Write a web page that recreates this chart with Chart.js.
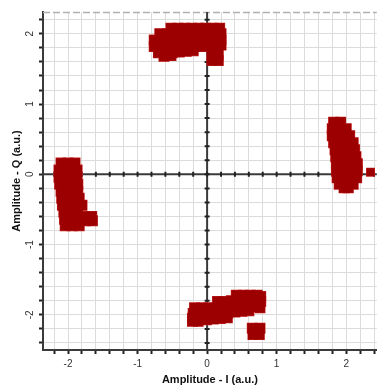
<!DOCTYPE html>
<html>
<head>
<meta charset="utf-8">
<script src="https://cdn.jsdelivr.net/npm/chart.js@4"></script>
<style>
html,body{margin:0;padding:0;background:#fff;}
canvas{display:block;}
</style>
</head>
<body>
<canvas id="c" width="378" height="390"></canvas>
<script>
// Axis settings and tick labels
const xRange = [-2.36, 2.44];
const yRange = [-2.5, 2.31];
const xTickLabels = [-2, -1, 0, 1, 2];
const yTickLabels = [-2, -1, 0, 1, 2];
const xTitle = 'Amplitude - I (a.u.)';
const yTitle = 'Amplitude - Q (a.u.)';

// Constellation clusters: [I, Q] samples
const clusterTop = [
  [-0.52,2.08],[-0.42,2.08],[-0.32,2.08],[-0.22,2.08],[-0.12,2.08],[-0.02,2.08],[0.08,2.08],[0.18,2.08],
  [-0.68,2.00],[-0.58,2.00],[-0.48,2.00],[-0.38,2.00],[-0.28,2.00],[-0.18,2.00],[-0.08,2.00],[0.02,2.00],[0.12,2.00],[0.20,2.00],
  [-0.76,1.91],[-0.66,1.91],[-0.56,1.91],[-0.46,1.91],[-0.36,1.91],[-0.26,1.91],[-0.16,1.91],[-0.06,1.91],[0.04,1.91],[0.14,1.91],[0.20,1.91],
  [-0.76,1.82],[-0.66,1.82],[-0.56,1.82],[-0.46,1.82],[-0.36,1.82],[-0.26,1.82],[-0.16,1.82],[-0.06,1.82],[0.04,1.83],[0.14,1.84],[0.20,1.84],
  [-0.70,1.73],[-0.60,1.73],[-0.50,1.73],[-0.40,1.74],[-0.30,1.75],[-0.20,1.76],
  [-0.62,1.68],[-0.52,1.69],
  [0.07,1.70],[0.16,1.70],[0.07,1.62],[0.16,1.62]
];
const clusterLeft = [
  [-2.10,0.16],[-2.00,0.16],[-1.90,0.16],
  [-2.13,0.06],[-2.03,0.06],[-1.93,0.06],[-1.87,0.06],
  [-2.13,-0.04],[-2.03,-0.04],[-1.93,-0.04],[-1.87,-0.04],
  [-2.12,-0.14],[-2.02,-0.14],[-1.92,-0.14],[-1.86,-0.14],
  [-2.10,-0.24],[-2.00,-0.24],[-1.90,-0.24],[-1.86,-0.24],
  [-2.09,-0.34],[-1.99,-0.34],[-1.89,-0.34],[-1.84,-0.34],
  [-2.08,-0.44],[-1.98,-0.44],[-1.88,-0.44],[-1.80,-0.44],
  [-2.06,-0.54],[-1.96,-0.54],[-1.86,-0.54],[-1.76,-0.60],[-1.66,-0.60],
  [-2.05,-0.64],[-1.95,-0.64],[-1.85,-0.64],[-1.75,-0.66],[-1.65,-0.66],
  [-2.04,-0.73],[-1.94,-0.73],[-1.84,-0.73]
];
const clusterRight = [
  [1.82,0.74],[1.92,0.74],
  [1.80,0.65],[1.90,0.65],[2.00,0.65],
  [1.80,0.55],[1.90,0.55],[2.00,0.55],[2.05,0.55],
  [1.82,0.45],[1.92,0.45],[2.02,0.45],[2.10,0.45],
  [1.84,0.35],[1.94,0.35],[2.04,0.35],[2.12,0.35],
  [1.85,0.25],[1.95,0.25],[2.05,0.25],[2.14,0.25],
  [1.86,0.15],[1.96,0.15],[2.06,0.15],[2.16,0.15],
  [1.86,0.05],[1.96,0.05],[2.06,0.05],[2.16,0.05],
  [1.87,-0.05],[1.97,-0.05],[2.07,-0.05],[2.15,-0.05],
  [1.90,-0.14],[2.00,-0.14],[2.10,-0.14],
  [1.97,-0.19],[2.03,-0.19]
];
const outlierRight = [[2.35,0.03]];
const clusterBottom = [
  [0.42,-1.72],[0.52,-1.72],[0.62,-1.72],[0.72,-1.72],[0.77,-1.74],
  [0.15,-1.81],[0.25,-1.81],[0.35,-1.80],[0.45,-1.80],[0.55,-1.80],[0.65,-1.80],[0.77,-1.81],
  [-0.18,-1.90],[-0.08,-1.90],[0.02,-1.90],[0.12,-1.90],[0.22,-1.90],[0.32,-1.89],[0.42,-1.88],[0.52,-1.88],[0.62,-1.88],[0.72,-1.88],[0.76,-1.90],
  [-0.20,-1.98],[-0.10,-1.98],[0.00,-1.98],[0.10,-1.98],[0.20,-1.98],[0.30,-1.97],[0.40,-1.96],[0.50,-1.95],[0.60,-1.94],
  [-0.21,-2.05],[-0.11,-2.06],[-0.01,-2.07],[0.09,-2.06],[0.19,-2.05],[0.29,-2.04],
  [-0.21,-2.09],[-0.13,-2.09],
  [0.65,-2.19],[0.76,-2.19],[0.66,-2.28],[0.75,-2.28]
];

const clusters = [clusterTop, clusterLeft, clusterRight, clusterBottom];

const red = '#9c0000';
const redHalo = '#c42222';

function makeSet(points, radius, color) {
  return {
    data: points.map(p => ({x: p[0], y: p[1]})),
    backgroundColor: color,
    borderWidth: 0,
    pointStyle: 'rect',
    pointRadius: radius,
    pointHoverRadius: radius
  };
}
// Chart.js paints dataset 0 last (on top): dark fill first, lighter halo after
const datasets = [];
clusters.forEach(c => datasets.push(makeSet(c, 7, red)));
datasets.push(makeSet(outlierRight, 5.5, red));
clusters.forEach(c => datasets.push(makeSet(c, 7.8, redHalo)));
datasets.push(makeSet(outlierRight, 6.3, redHalo));

function minorTicks(lo, hi) {
  const out = [];
  for (let i = Math.ceil(lo * 5 - 1e-9); i <= Math.floor(hi * 5 + 1e-9); i++) out.push({value: Math.round(i * 2) / 10});
  return out;
}
function labelFor(list) {
  return v => {
    const r = Math.round(v);
    return (Math.abs(v - r) < 1e-6 && list.includes(r)) ? String(r) : '';
  };
}

const originAxes = {
  id: 'originAxes',
  beforeDatasetsDraw(chart) {
    const {ctx, chartArea: a, scales: {x, y}} = chart;
    const x0 = x.getPixelForValue(0), y0 = y.getPixelForValue(0);
    ctx.save();
    ctx.strokeStyle = '#b0b0b0';
    ctx.lineWidth = 1.5;
    ctx.setLineDash([7, 3]);
    ctx.beginPath();
    ctx.moveTo(a.left, a.top + 0.5);
    ctx.lineTo(a.right, a.top + 0.5);
    ctx.stroke();
    ctx.setLineDash([]);
    ctx.strokeStyle = '#3a3a3a';
    ctx.lineWidth = 2;
    ctx.beginPath();
    ctx.moveTo(a.left, y0); ctx.lineTo(a.right, y0);
    ctx.moveTo(x0, a.top); ctx.lineTo(x0, a.bottom);
    ctx.stroke();
    ctx.strokeStyle = '#222';
    ctx.lineWidth = 2;
    ctx.beginPath();
    x.ticks.forEach(t => { const px = x.getPixelForValue(t.value); ctx.moveTo(px, y0 - 2.5); ctx.lineTo(px, y0 + 2.5); });
    y.ticks.forEach(t => { const py = y.getPixelForValue(t.value); ctx.moveTo(x0 - 2.5, py); ctx.lineTo(x0 + 2.5, py); });
    ctx.stroke();
    ctx.restore();
  }
};

new Chart(document.getElementById('c'), {
  type: 'scatter',
  data: {datasets},
  plugins: [originAxes],
  options: {
    responsive: false,
    animation: false,
    events: [],
    layout: {autoPadding: false, padding: {top: 12, right: 0, left: 0, bottom: 0}},
    plugins: {legend: {display: false}, tooltip: {enabled: false}},
    scales: {
      x: {
        type: 'linear',
        min: xRange[0], max: xRange[1],
        afterBuildTicks: s => { s.ticks = minorTicks(xRange[0], xRange[1]); },
        afterFit: s => { s.height = 40; },
        grid: {color: '#dcdcdc', lineWidth: 1, tickLength: 4, tickColor: '#222', tickWidth: 2},
        border: {color: '#3a3a3a', width: 2},
        ticks: {autoSkip: false, maxRotation: 0, minRotation: 0, padding: 4, color: '#333',
          font: {family: 'Liberation Sans, Arial, sans-serif', size: 10},
          callback: labelFor(xTickLabels)},
        title: {display: true, text: xTitle, color: '#111', padding: {top: 0, bottom: 3},
          font: {family: 'Liberation Sans, Arial, sans-serif', size: 11, weight: 'bold'}}
      },
      y: {
        type: 'linear',
        min: yRange[0], max: yRange[1],
        afterBuildTicks: s => { s.ticks = minorTicks(yRange[0], yRange[1]); },
        afterFit: s => { s.width = 43; },
        grid: {color: '#dcdcdc', lineWidth: 1, tickLength: 4, tickColor: '#222', tickWidth: 2},
        border: {color: '#3a3a3a', width: 2},
        ticks: {autoSkip: false, minRotation: 90, maxRotation: 90, crossAlign: 'center', padding: 4, color: '#333',
          font: {family: 'Liberation Sans, Arial, sans-serif', size: 10},
          callback: labelFor(yTickLabels)},
        title: {display: true, text: yTitle, color: '#111', padding: {top: 10, bottom: 0},
          font: {family: 'Liberation Sans, Arial, sans-serif', size: 11, weight: 'bold'}}
      }
    }
  }
});
</script>
</body>
</html>
